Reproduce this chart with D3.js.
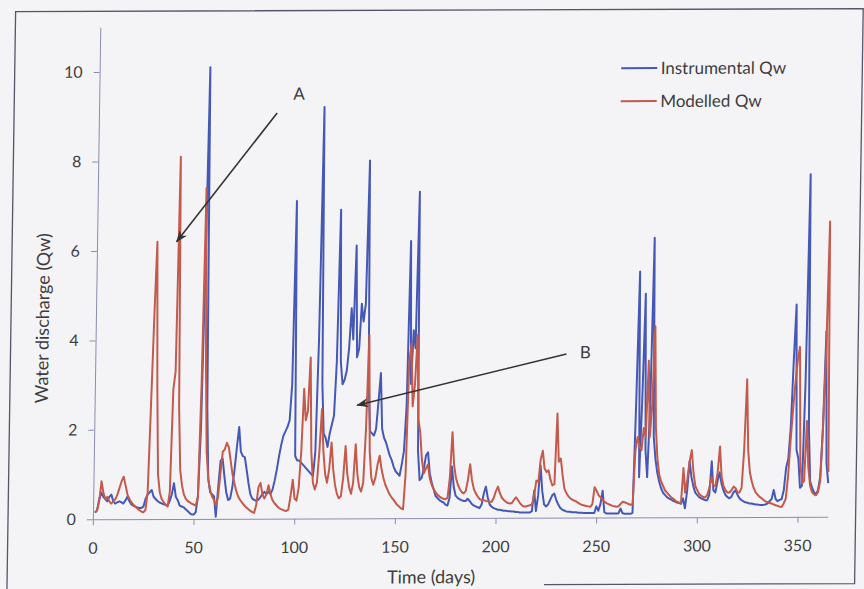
<!DOCTYPE html>
<html>
<head>
<meta charset="utf-8">
<script src="https://d3js.org/d3.v7.min.js"></script>
<style>
  html, body { margin: 0; padding: 0; background: #f4f4f6; }
  svg { display: block; }
  text { font-family: Lato, "Open Sans", sans-serif; fill: #3d3d3d; }
</style>
</head>
<body>
<div id="chart"></div>
<script>
// daily water discharge, day 1 .. 365
const instrumentalQw = [
  0.15, 0.2, 0.45, 0.6, 0.5, 0.45, 0.4, 0.5, 0.55, 0.4,
  0.35, 0.38, 0.4, 0.38, 0.35, 0.42, 0.5, 0.4, 0.33, 0.3,
  0.28, 0.26, 0.25, 0.25, 0.28, 0.45, 0.55, 0.6, 0.65, 0.5,
  0.45, 0.4, 0.37, 0.35, 0.33, 0.32, 0.3, 0.4, 0.55, 0.8,
  0.5, 0.42, 0.3, 0.28, 0.26, 0.22, 0.18, 0.13, 0.1, 0.1,
  0.15, 0.5, 2.0, 5.5, 10.1, 2.5, 0.9, 0.6, 0.55, 0.5,
  0.05, 0.7, 1.3, 1.35, 0.95, 0.6, 0.42, 0.45, 0.7, 1.1,
  1.6, 2.05, 1.5, 1.4, 1.38, 1.1, 0.8, 0.55, 0.45, 0.42,
  0.4, 0.42, 0.48, 0.55, 0.6, 0.55, 0.6, 0.55, 0.65, 0.85,
  1.1, 1.4, 1.65, 1.85, 1.95, 2.05, 2.2, 3.0, 7.1, 1.4,
  1.3, 1.3, 1.25, 1.2, 1.15, 1.1, 1.05, 1.0, 0.95, 1.5,
  4.0, 9.2, 3.0, 1.9, 1.8, 1.6, 1.9, 2.1, 2.3, 3.5,
  6.9, 3.5, 3.0, 3.1, 3.3, 3.8, 4.7, 4.0, 6.1, 3.6,
  3.8, 4.8, 4.4, 4.8, 8.0, 3.0, 1.95, 1.9, 1.85, 2.0,
  2.6, 3.25, 2.0, 1.8, 1.7, 1.55, 1.4, 1.3, 1.15, 1.05,
  1.0, 0.95, 1.2, 1.5, 2.5, 6.2, 3.0, 4.2, 3.8, 7.3,
  1.5, 0.85, 0.9, 1.1, 1.4, 1.47, 1.0, 0.8, 0.65, 0.5,
  0.45, 0.4, 0.37, 0.35, 0.3, 0.28, 0.45, 1.15, 0.7, 0.5,
  0.45, 0.42, 0.4, 0.38, 0.38, 0.43, 0.38, 0.32, 0.28, 0.26,
  0.24, 0.22, 0.3, 0.55, 0.7, 0.45, 0.3, 0.25, 0.22, 0.2,
  0.18, 0.18, 0.17, 0.16, 0.16, 0.15, 0.15, 0.14, 0.14, 0.13,
  0.13, 0.12, 0.12, 0.12, 0.12, 0.12, 0.12, 0.15, 0.61, 0.15,
  0.5, 1.17, 0.6, 0.3, 0.25, 0.3, 0.4, 0.5, 0.54, 0.4,
  0.3, 0.22, 0.18, 0.16, 0.14, 0.13, 0.13, 0.12, 0.12, 0.12,
  0.11, 0.11, 0.11, 0.1, 0.1, 0.1, 0.1, 0.1, 0.1, 0.25,
  0.15, 0.3, 0.6, 0.12, 0.09, 0.09, 0.09, 0.09, 0.09, 0.09,
  0.09, 0.2, 0.1, 0.08, 0.08, 0.08, 0.08, 0.1, 2.5, 5.5,
  0.9, 2.6, 5.0, 1.5, 0.9, 2.5, 6.25, 1.8, 1.3, 1.0,
  0.8, 0.65, 0.55, 0.5, 0.45, 0.42, 0.4, 0.37, 0.35, 0.33,
  0.32, 0.3, 0.42, 0.2, 0.6, 1.25, 0.9, 0.7, 0.55, 0.5,
  0.45, 0.42, 0.4, 0.38, 0.38, 0.5, 1.25, 0.6, 0.55, 0.8,
  1.0, 0.75, 0.6, 0.5, 0.45, 0.42, 0.45, 0.55, 0.6, 0.5,
  0.42, 0.38, 0.35, 0.33, 0.32, 0.3, 0.3, 0.29, 0.28, 0.28,
  0.27, 0.27, 0.27, 0.28, 0.3, 0.35, 0.4, 0.6, 0.4, 0.35,
  0.38, 0.4, 0.6, 1.1, 1.3, 2.0, 3.5, 4.75, 1.5, 1.3,
  0.65, 0.7, 3.0, 7.66, 2.0, 0.8, 0.65, 0.55, 0.5, 0.6,
  0.9, 2.0, 4.15, 1.2, 0.75
];

const modelledQw = [
  0.15, 0.2, 0.4, 0.85, 0.6, 0.45, 0.5, 0.4, 0.35, 0.4,
  0.45, 0.55, 0.7, 0.85, 0.95, 0.75, 0.55, 0.45, 0.38, 0.32,
  0.28, 0.24, 0.2, 0.17, 0.15, 0.2, 0.6, 2.5, 4.5, 6.2,
  3.0, 1.0, 0.6, 0.45, 0.38, 0.32, 0.28, 0.6, 2.9, 3.3,
  8.1, 2.5, 1.1, 0.75, 0.55, 0.45, 0.4, 0.37, 0.34, 0.32,
  0.3, 0.5, 3.0, 7.4, 3.5, 1.5, 0.9, 0.65, 0.5, 0.42,
  0.3, 0.5, 1.0, 1.5, 1.55, 1.7, 1.6, 1.3, 1.0, 0.8,
  0.62, 0.5, 0.42, 0.36, 0.3, 0.26, 0.22, 0.18, 0.15, 0.13,
  0.3, 0.7, 0.8, 0.55, 0.45, 0.55, 0.75, 0.55, 0.42, 0.35,
  0.3, 0.25, 0.22, 0.2, 0.18, 0.17, 0.2, 0.5, 0.87, 0.45,
  0.4, 0.7, 1.5, 2.9, 2.2, 2.4, 3.6, 1.5, 0.8, 0.65,
  0.8, 1.5, 2.45, 1.5, 1.0, 0.8, 1.1, 1.7, 1.1, 0.75,
  0.55, 0.45, 0.5, 0.9, 1.62, 1.0, 0.7, 0.55, 0.8, 1.66,
  1.0, 0.7, 0.6, 0.8, 2.0, 4.1, 1.5, 0.9, 0.75, 0.9,
  1.2, 1.4, 1.1, 0.9, 0.75, 0.65, 0.55, 0.48, 0.42, 0.36,
  0.3, 0.26, 0.22, 0.2, 1.0, 3.5, 3.9, 2.5, 3.0, 4.1,
  2.2, 1.9, 1.3, 1.0, 1.1, 1.2, 0.9, 0.75, 0.65, 0.58,
  0.52, 0.48, 0.45, 0.43, 0.42, 0.45, 0.9, 1.92, 1.2, 0.9,
  0.75, 0.65, 0.58, 0.55, 0.6, 0.85, 1.2, 0.85, 0.65, 0.55,
  0.48, 0.42, 0.4, 0.4, 0.38, 0.37, 0.36, 0.36, 0.45, 0.6,
  0.7, 0.55, 0.45, 0.4, 0.36, 0.33, 0.32, 0.33, 0.4, 0.46,
  0.4, 0.33, 0.28, 0.25, 0.25, 0.27, 0.28, 0.3, 0.5, 0.83,
  0.8, 1.3, 1.5, 1.1, 1.02, 1.06, 0.85, 0.72, 0.75, 2.33,
  1.25, 1.32, 0.95, 0.65, 0.55, 0.48, 0.43, 0.4, 0.38, 0.36,
  0.33, 0.3, 0.28, 0.27, 0.26, 0.25, 0.24, 0.3, 0.68, 0.6,
  0.5, 0.45, 0.4, 0.35, 0.32, 0.3, 0.28, 0.26, 0.25, 0.24,
  0.25, 0.3, 0.35, 0.34, 0.32, 0.3, 0.28, 0.3, 1.5, 1.8,
  1.6, 1.5, 2.0, 1.8, 3.5, 1.8, 2.5, 4.27, 2.0, 1.3,
  0.95, 0.8, 0.7, 0.6, 0.55, 0.5, 0.45, 0.42, 0.38, 0.35,
  0.33, 0.32, 1.1, 0.55, 0.85, 1.25, 1.5, 1.0, 0.7, 0.6,
  0.52, 0.48, 0.45, 0.44, 0.5, 0.65, 0.9, 0.7, 0.7, 1.0,
  1.58, 0.9, 0.7, 0.6, 0.55, 0.55, 0.6, 0.68, 0.65, 0.55,
  0.55, 0.65, 1.5, 3.08, 1.5, 1.0, 0.8, 0.65, 0.55, 0.5,
  0.45, 0.42, 0.38, 0.35, 0.33, 0.31, 0.3, 0.28, 0.26, 0.25,
  0.23, 0.22, 0.3, 0.4, 0.9, 1.7, 2.4, 3.0, 3.5, 3.8,
  1.2, 0.75, 0.8, 2.14, 1.1, 0.7, 0.55, 0.5, 0.48, 0.55,
  0.8, 2.0, 3.6, 6.6, 1.0
];

const seriesNames = ['Instrumental Qw', 'Modelled Qw'];
const seriesColors = ['#4658b6', '#c35a4c'];
const xTicks = [0, 50, 100, 150, 200, 250, 300, 350];
const yTicks = [0, 2, 4, 6, 8, 10];

const width = 864;
const height = 589;

const svg = d3.select('#chart')
  .append('svg')
  .attr('width', width)
  .attr('height', height);

svg.append('defs').append('marker')
  .attr('id', 'arrow')
  .attr('markerUnits', 'userSpaceOnUse')
  .attr('viewBox', '0 -5 12 10')
  .attr('refX', 11)
  .attr('refY', 0)
  .attr('markerWidth', 12)
  .attr('markerHeight', 10)
  .attr('orient', 'auto')
  .append('path')
  .attr('d', 'M0,-4.5L12,0L0,4.5L3.5,0Z')
  .attr('fill', '#333');

// the source is a slightly skewed scan, so the whole figure is sheared a little
const g = svg.append('g')
  .attr('transform', 'matrix(1,-0.0035,-0.015,1,7.79,0.33)');

// outer frame; the scan loses the left part of its bottom edge
g.append('path')
  .attr('d', 'M545,586.3H855.6V11.3H8V592')
  .attr('fill', 'none')
  .attr('stroke', '#55556a')
  .attr('stroke-width', 1.3);

const x = d3.scaleLinear().domain([0, 365]).range([92.9, 827.7]);
const y = d3.scaleLinear().domain([0, 11]).range([519.3, 27.3]);

const xAxis = g.append('g')
  .attr('transform', 'translate(0,' + y(0) + ')')
  .call(d3.axisBottom(x).tickValues(xTicks).tickSize(6).tickSizeOuter(0).tickPadding(17));

const yAxis = g.append('g')
  .attr('transform', 'translate(' + x(0) + ',0)')
  .call(d3.axisLeft(y).tickValues(yTicks).tickSize(6).tickSizeOuter(0).tickPadding(11));

[xAxis, yAxis].forEach(axis => {
  axis.selectAll('path, line').attr('stroke', '#8a8db0').attr('stroke-width', 1);
  axis.selectAll('text')
    .style('font-family', 'Lato, "Open Sans", sans-serif')
    .style('font-size', '16px')
    .attr('fill', '#3d3d3d');
});

const valueLine = d3.line()
  .x((d, i) => x(i + 1))
  .y(d => y(d));

[instrumentalQw, modelledQw].forEach((series, i) => {
  g.append('path')
    .datum(series)
    .attr('fill', 'none')
    .attr('stroke', seriesColors[i])
    .attr('stroke-width', 2)
    .attr('stroke-linejoin', 'round')
    .attr('d', valueLine);
});

// legend
seriesNames.forEach((name, i) => {
  const ly = 70 + i * 33;
  g.append('line')
    .attr('x1', 614.5).attr('x2', 650.5)
    .attr('y1', ly).attr('y2', ly)
    .attr('stroke', seriesColors[i])
    .attr('stroke-width', 2);
  g.append('text')
    .attr('x', 654)
    .attr('y', ly + 6)
    .style('font-size', '17px')
    .text(name);
});

// annotations, in data units (day, Qw)
const notes = [
  {label: 'A', from: [88.5, 9.07], to: [39.5, 6.2], at: [99.3, 9.5]},
  {label: 'B', from: [234, 3.66], to: [130.4, 2.53], at: [243.4, 3.7]}
];

notes.forEach(n => {
  g.append('line')
    .attr('x1', x(n.from[0])).attr('y1', y(n.from[1]))
    .attr('x2', x(n.to[0])).attr('y2', y(n.to[1]))
    .attr('stroke', '#333')
    .attr('stroke-width', 1.6)
    .attr('marker-end', 'url(#arrow)');
  g.append('text')
    .attr('x', x(n.at[0]))
    .attr('y', y(n.at[1]))
    .attr('text-anchor', 'middle')
    .attr('dy', '0.36em')
    .style('font-size', '17px')
    .text(n.label);
});

g.append('text')
  .attr('x', 432)
  .attr('y', 584.5)
  .attr('text-anchor', 'middle')
  .style('font-size', '18px')
  .text('Time (days)');

g.append('text')
  .attr('transform', 'translate(46,318) rotate(-90)')
  .attr('text-anchor', 'middle')
  .style('font-size', '18px')
  .text('Water discharge (Qw)');
</script>
</body>
</html>
